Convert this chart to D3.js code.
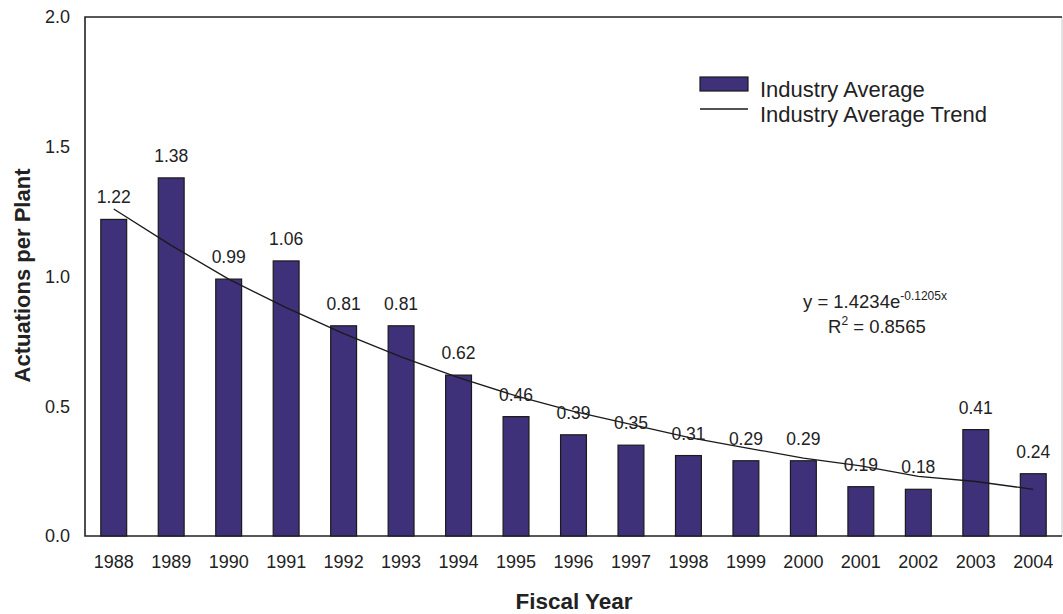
<!DOCTYPE html>
<html>
<head>
<meta charset="utf-8">
<script src="https://cdn.jsdelivr.net/npm/d3@7.9.0/dist/d3.min.js"></script>
<style>
  body { margin: 0; background: #fff; }
  svg { display: block; font-family: "Liberation Sans", Arial, sans-serif; }
</style>
</head>
<body>
<div id="chart"></div>
<script>
const years = ["1988", "1989", "1990", "1991", "1992", "1993", "1994", "1995", "1996",
  "1997", "1998", "1999", "2000", "2001", "2002", "2003", "2004"];
const actuations = [1.22, 1.38, 0.99, 1.06, 0.81, 0.81, 0.62, 0.46, 0.39,
  0.35, 0.31, 0.29, 0.29, 0.19, 0.18, 0.41, 0.24];
// trend line
const trend = [1.26, 1.12, 0.99, 0.88, 0.78, 0.69, 0.61, 0.54, 0.48,
  0.43, 0.38, 0.34, 0.30, 0.27, 0.23, 0.21, 0.18];
const yTicks = [0, 0.5, 1.0, 1.5, 2.0];

const width = 1063;
const height = 614;
const plot = { left: 85, right: 1062, top: 17, bottom: 536 };
const barColor = "#3f3179";
const font = "Liberation Sans, Arial, sans-serif";

const svg = d3.select("#chart").append("svg")
  .attr("width", width)
  .attr("height", height);

const x = d3.scaleBand()
  .domain(years)
  .range([plot.left, plot.right])
  .paddingInner(0.55)
  .paddingOuter(0.275);

const y = d3.scaleLinear()
  .domain([0, 2])
  .range([plot.bottom, plot.top]);

// frame
svg.append("line")
  .attr("x1", plot.right).attr("x2", plot.right)
  .attr("y1", plot.top).attr("y2", plot.bottom)
  .attr("stroke", "#c8c8c8").attr("stroke-width", 1);
svg.append("path")
  .attr("d", `M${plot.right},${plot.top}H${plot.left}V${plot.bottom}H${plot.right}`)
  .attr("fill", "none")
  .attr("stroke", "#222")
  .attr("stroke-width", 1.6);

// bars
svg.append("g")
  .selectAll("rect")
  .data(actuations)
  .join("rect")
  .attr("x", (d, i) => x(years[i]))
  .attr("y", d => y(d))
  .attr("width", x.bandwidth())
  .attr("height", d => plot.bottom - y(d))
  .attr("fill", barColor)
  .attr("stroke", "#1a1a1a")
  .attr("stroke-width", 1.2);

// trend
const line = d3.line()
  .x((d, i) => x(years[i]) + x.bandwidth() / 2)
  .y(d => y(d));

svg.append("path")
  .datum(trend)
  .attr("d", line)
  .attr("fill", "none")
  .attr("stroke", "#1a1a1a")
  .attr("stroke-width", 1.3);

// value labels
svg.append("g")
  .selectAll("text")
  .data(actuations)
  .join("text")
  .attr("x", (d, i) => x(years[i]) + x.bandwidth() / 2)
  .attr("y", d => y(d) - 16)
  .attr("text-anchor", "middle")
  .attr("font-size", 17.5)
  .attr("fill", "#222")
  .text(d => d.toFixed(2));

// y axis labels
const yAxis = d3.axisLeft(y)
  .tickValues(yTicks)
  .tickFormat(d3.format(".1f"))
  .tickSize(0)
  .tickPadding(15);

svg.append("g")
  .attr("transform", `translate(${plot.left},0)`)
  .call(yAxis)
  .call(g => g.select(".domain").remove())
  .selectAll("text")
  .attr("font-size", 18)
  .attr("font-family", font)
  .attr("fill", "#222");

// x axis labels
const xAxis = d3.axisBottom(x).tickSize(0).tickPadding(19);
svg.append("g")
  .attr("transform", `translate(0,${plot.bottom})`)
  .call(xAxis)
  .call(g => g.select(".domain").remove())
  .selectAll("text")
  .attr("font-size", 18)
  .attr("font-family", font)
  .attr("fill", "#222");

// axis titles
svg.append("text")
  .attr("x", 574)
  .attr("y", 609)
  .attr("text-anchor", "middle")
  .attr("font-size", 22.5)
  .attr("font-weight", "bold")
  .attr("fill", "#222")
  .text("Fiscal Year");

svg.append("text")
  .attr("transform", "rotate(-90)")
  .attr("x", -275.5)
  .attr("y", 30)
  .attr("text-anchor", "middle")
  .attr("font-size", 22)
  .attr("font-weight", "bold")
  .attr("fill", "#222")
  .text("Actuations per Plant");

// legend
const legend = svg.append("g").attr("transform", "translate(700,77)");
legend.append("rect")
  .attr("x", 0).attr("y", 0)
  .attr("width", 48).attr("height", 14)
  .attr("fill", barColor)
  .attr("stroke", "#1a1a1a")
  .attr("stroke-width", 1.2);
legend.append("text")
  .attr("x", 60).attr("y", 20)
  .attr("font-size", 22)
  .attr("fill", "#222")
  .text("Industry Average");
legend.append("line")
  .attr("x1", 0).attr("x2", 48)
  .attr("y1", 32).attr("y2", 32)
  .attr("stroke", "#1a1a1a")
  .attr("stroke-width", 1.3);
legend.append("text")
  .attr("x", 60).attr("y", 45)
  .attr("font-size", 22)
  .attr("fill", "#222")
  .text("Industry Average Trend");

// equation
const eq = svg.append("text")
  .attr("x", 803).attr("y", 308)
  .attr("font-size", 18.5)
  .attr("fill", "#222");
eq.append("tspan").text("y = 1.4234e");
eq.append("tspan").attr("dy", -8).attr("font-size", 12).text("-0.1205x");

const r2 = svg.append("text")
  .attr("x", 828).attr("y", 333)
  .attr("font-size", 18.5)
  .attr("fill", "#222");
r2.append("tspan").text("R");
r2.append("tspan").attr("dy", -8).attr("font-size", 12).text("2");
r2.append("tspan").attr("dy", 8).text(" = 0.8565");
</script>
</body>
</html>
